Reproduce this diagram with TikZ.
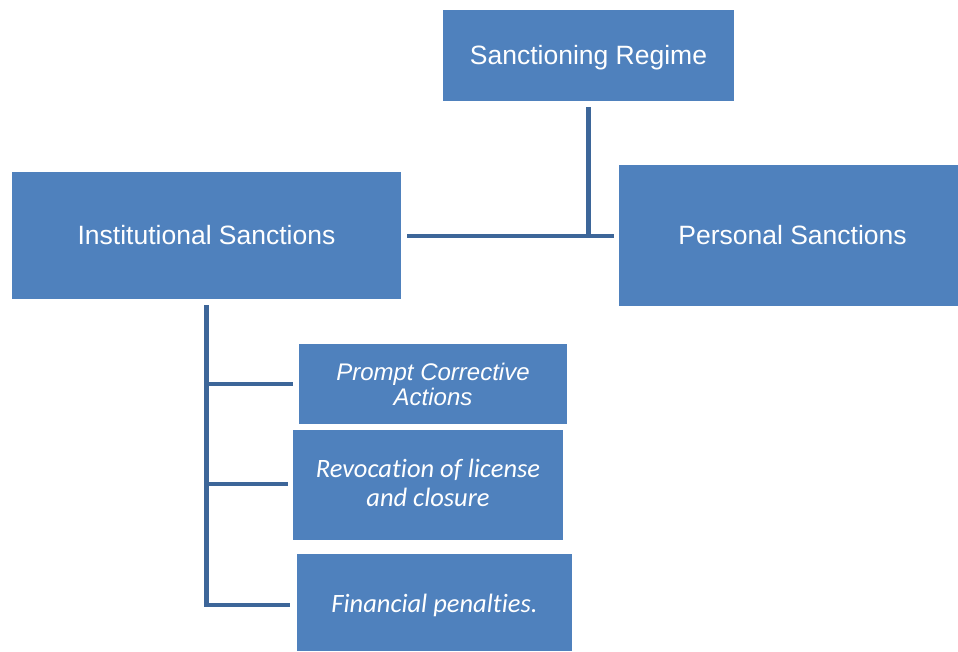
\documentclass[tikz,border=0pt]{standalone}
\usepackage{fontspec}
\setmainfont{Liberation Sans}
\newfontfamily\carl[Ligatures=NoCommon]{Carlito}
\definecolor{boxblue}{HTML}{4F81BD}
\definecolor{lineblue}{HTML}{3D6699}
\newcommand{\shiftby}[2]{\raisebox{#1}[\height][\depth]{#2}}
\begin{document}
\begin{tikzpicture}[x=1pt,y=-1pt,
  box/.style={fill=boxblue,draw=none,text=white,inner sep=0pt,align=center,font=\fontsize{26.5}{30}\selectfont},
  sub/.style={fill=boxblue,draw=none,text=white,inner sep=0pt,align=center},
  conn/.style={draw=lineblue,line width=4.5pt}]
\useasboundingbox (0,0) rectangle (958,651);
\node[box,minimum width=291pt,minimum height=91pt] (reg) at (588.5,55.5) {\shiftby{-2pt}{Sanctioning Regime}};
\node[box,minimum width=389pt,minimum height=127pt] (inst) at (206.5,235.5) {Institutional Sanctions};
\node[box,minimum width=339pt,minimum height=141pt] (pers) at (788.5,235.5) {\hspace*{8pt}Personal Sanctions};
\node[sub,minimum width=268pt,minimum height=80pt,font=\fontsize{24}{25}\selectfont\itshape] (pca) at (433,384) {Prompt Corrective\\Actions};
\node[sub,minimum width=270pt,minimum height=110pt,font=\carl\fontsize{26.5}{29}\selectfont\itshape] (rev) at (428,485) {\shiftby{-1pt}{\begin{tabular}{@{}c@{}}Revocation of license\\and closure\end{tabular}}};
\node[sub,minimum width=275pt,minimum height=97pt,font=\carl\fontsize{26.5}{29}\selectfont\itshape] (fin) at (434.5,602.5) {\shiftby{-3pt}{Financial penalties.}};
\coordinate (j1) at (588.5,236);
\draw[conn] ([yshift=-6pt]reg.south) -- (j1);
\draw[conn] ([xshift=6pt]inst.east |- j1) -- ([xshift=-5pt]pers.west |- j1);
\coordinate (ib) at ([yshift=-6pt]inst.south);
\draw[conn] (ib) |- ([xshift=-7pt]fin.west |- 0,605);
\draw[conn] (ib |- pca.west) -- ([xshift=-6pt]pca.west);
\draw[conn] (ib |- 0,484) -- ([xshift=-5pt]rev.west |- 0,484);
\end{tikzpicture}
\end{document}
